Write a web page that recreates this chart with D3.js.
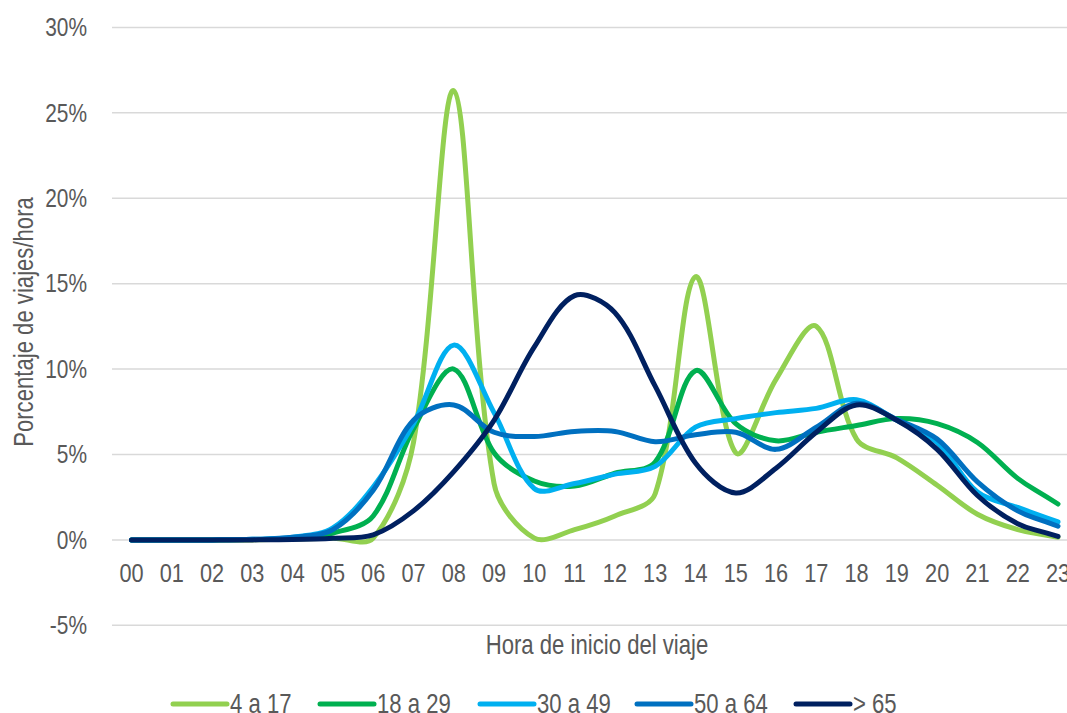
<!DOCTYPE html>
<html>
<head>
<meta charset="utf-8">
<script src="https://cdn.jsdelivr.net/npm/d3@7"></script>
<style>
  html, body { margin: 0; padding: 0; background: #fff; }
  svg { display: block; }
  text { font-family: "Liberation Sans", Arial, sans-serif; fill: #595959; }
</style>
</head>
<body>
<svg id="chart" width="1067" height="713"></svg>
<script>
const hours = ["00","01","02","03","04","05","06","07","08","09","10","11","12","13","14","15","16","17","18","19","20","21","22","23"];
const yTicks = [-5, 0, 5, 10, 15, 20, 25, 30];
const seriesNames = ["4 a 17", "18 a 29", "30 a 49", "50 a 64", "> 65"];
const seriesColors = ["#92D050", "#00B050", "#00B0F0", "#0070C0", "#002060"];

const s4a17  = [0, 0, 0, 0, 0.05, 0.1, 0.1, 5.7, 26.3, 3.3, 0.1, 0.6, 1.4, 2.7, 15.4, 5.1, 9.4, 12.5, 5.9, 4.8, 3.2, 1.5, 0.6, 0.15];
const s18a29 = [0, 0, 0, 0.02, 0.08, 0.4, 1.4, 6.5, 10.0, 5.1, 3.45, 3.15, 3.9, 4.55, 9.9, 6.8, 5.8, 6.3, 6.7, 7.1, 6.8, 5.7, 3.6, 2.1];
const s30a49 = [0, 0, 0, 0.03, 0.15, 0.7, 3.1, 6.8, 11.4, 7.45, 3.0, 3.3, 3.85, 4.3, 6.6, 7.1, 7.45, 7.7, 8.2, 7.0, 5.7, 2.8, 1.9, 1.05];
const s50a64 = [0, 0, 0, 0.03, 0.15, 0.6, 2.9, 7.0, 7.9, 6.3, 6.05, 6.35, 6.35, 5.75, 6.15, 6.3, 5.3, 6.6, 8.0, 7.05, 5.9, 3.4, 1.7, 0.8];
const s65    = [0, 0, 0, 0, 0.02, 0.1, 0.3, 1.7, 4.0, 7.0, 11.3, 14.3, 13.3, 9.0, 4.5, 2.75, 4.2, 6.3, 7.9, 7.0, 5.3, 2.6, 0.95, 0.2];
const seriesValues = [s4a17, s18a29, s30a49, s50a64, s65];

// Excel-like smoothing: Bezier control arms scaled by adjacent segment lengths
function ExcelSmooth(context) { this._context = context; }
ExcelSmooth.prototype = {
  areaStart() { this._line = 0; },
  areaEnd() { this._line = NaN; },
  lineStart() { this._pts = []; },
  point(x, y) { this._pts.push([+x, +y]); },
  lineEnd() {
    const p = this._pts, n = p.length, c = this._context;
    if (!n) return;
    c.moveTo(p[0][0], p[0][1]);
    const dist = (a, b) => Math.hypot(b[0] - a[0], b[1] - a[1]);
    for (let i = 0; i < n - 1; i++) {
      const p0 = p[Math.max(0, i - 1)], p1 = p[i], p2 = p[i + 1], p3 = p[Math.min(n - 1, i + 2)];
      const d01 = dist(p0, p1), d12 = dist(p1, p2), d23 = dist(p2, p3);
      const f1 = (d01 + d12) > 0 ? d12 / (d01 + d12) / 3 * (i === 0 ? 2 : 1) : 0;
      const f2 = (d12 + d23) > 0 ? d12 / (d12 + d23) / 3 * (i + 2 > n - 1 ? 2 : 1) : 0;
      const c1 = [p1[0] + (p2[0] - p0[0]) * f1, p1[1] + (p2[1] - p0[1]) * f1];
      const c2 = [p2[0] - (p3[0] - p1[0]) * f2, p2[1] - (p3[1] - p1[1]) * f2];
      c.bezierCurveTo(c1[0], c1[1], c2[0], c2[1], p2[0], p2[1]);
    }
  }
};
const curveExcel = ctx => new ExcelSmooth(ctx);

const svg = d3.select("#chart");
const W = 1067, H = 713;
svg.append("rect").attr("width", W).attr("height", H).attr("fill", "#fff");

const NARROW = 0.82;
const plotLeft = 112, plotRight = 1078;
const x = d3.scalePoint().domain(hours).range([131.5, 1058]);
const y = d3.scaleLinear().domain([-5, 30]).range([625.3, 27.4]);

// gridlines
svg.append("g").selectAll("line").data(yTicks).join("line")
  .attr("x1", plotLeft).attr("x2", plotRight)
  .attr("y1", d => y(d)).attr("y2", d => y(d))
  .attr("stroke", "#D9D9D9").attr("stroke-width", 1.5);

// y tick labels
svg.append("g").selectAll("text").data(yTicks).join("text")
  .attr("transform", d => `translate(87,${y(d) + 8.8}) scale(${NARROW},1)`)
  .attr("text-anchor", "end")
  .style("font-size", "25.5px")
  .text(d => d + "%");

// x tick labels
svg.append("g").selectAll("text").data(hours).join("text")
  .attr("transform", d => `translate(${x(d)},582) scale(${NARROW},1)`)
  .attr("text-anchor", "middle")
  .style("font-size", "26.5px")
  .text(d => d);

// axis titles
svg.append("text")
  .attr("transform", `translate(597,654) scale(${NARROW},1)`)
  .attr("text-anchor", "middle")
  .style("font-size", "27px")
  .text("Hora de inicio del viaje");

svg.append("text")
  .attr("transform", `translate(33,322) rotate(-90) scale(${NARROW},1)`)
  .attr("text-anchor", "middle")
  .style("font-size", "27px")
  .text("Porcentaje de viajes/hora");

// lines
const line = d3.line()
  .x((d, i) => x(hours[i]))
  .y(d => y(d))
  .curve(curveExcel);

svg.append("g").selectAll("path").data(seriesValues).join("path")
  .attr("d", d => line(d))
  .attr("fill", "none")
  .attr("stroke", (d, i) => seriesColors[i])
  .attr("stroke-width", 5)
  .attr("stroke-linecap", "round")
  .attr("stroke-linejoin", "round");

// legend
const legendStarts = [173, 320, 480, 637, 796];
const lg = svg.append("g").selectAll("g").data(seriesNames).join("g")
  .attr("transform", (d, i) => `translate(${legendStarts[i]},704)`);
lg.append("line")
  .attr("x1", 0).attr("x2", 54).attr("y1", 0).attr("y2", 0)
  .attr("stroke", (d, i) => seriesColors[i])
  .attr("stroke-width", 5)
  .attr("stroke-linecap", "round");
lg.append("text")
  .attr("transform", `translate(57,8.5) scale(${NARROW},1)`)
  .style("font-size", "27px")
  .text(d => d);
</script>
</body>
</html>
